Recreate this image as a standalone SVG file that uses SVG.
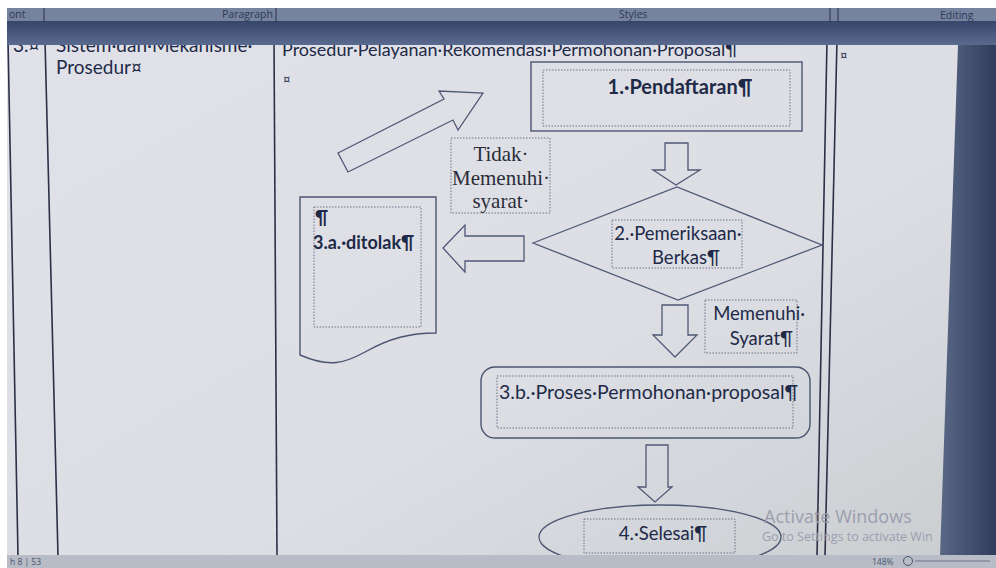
<svg xmlns="http://www.w3.org/2000/svg" width="996" height="568" viewBox="0 0 996 568">
<defs>
<linearGradient id="pg" x1="0" y1="0" x2="1" y2="1">
<stop offset="0" stop-color="#e1e2e9"/>
<stop offset="0.6" stop-color="#dcdee4"/>
<stop offset="1" stop-color="#c9cdcf"/>
</linearGradient>
<linearGradient id="band" x1="0" y1="0" x2="0" y2="1">
<stop offset="0" stop-color="#36456a"/>
<stop offset="1" stop-color="#5a6a8e"/>
</linearGradient>
<linearGradient id="side" x1="0" y1="0" x2="1" y2="0">
<stop offset="0" stop-color="#5a6886"/>
<stop offset="1" stop-color="#2f3c5c"/>
</linearGradient>
</defs>
<style>
.ln{fill:none;stroke:#4b5572;stroke-width:1.4}
.sh{fill:none;stroke:#4f5874;stroke-width:1.3}
.dot{fill:none;stroke:#6d7388;stroke-width:1;stroke-dasharray:1.5 1.5}
.t{font-family:Lato,"Liberation Sans",sans-serif;fill:#1e2a48}
.b{font-weight:bold}
.s{font-family:"Liberation Serif",serif;fill:#2a2d38}
.tab{stroke:#2b3047;stroke-width:1.6}
.wm{font-family:"Open Sans","Liberation Sans",sans-serif;fill:#9a9fae}
.rb{font-family:"Open Sans","Liberation Sans",sans-serif;font-size:10.5px;fill:#2e3a58}
</style>
<rect x="0" y="0" width="996" height="568" fill="#ffffff"/>
<rect x="7" y="8" width="989" height="560" fill="url(#pg)"/>
<!-- right dark side -->
<polygon points="958,45 996,45 996,556 940,556" fill="url(#side)"/>
<!-- table lines -->
<line class="tab" x1="8" y1="40" x2="18" y2="556"/>
<line class="tab" x1="45" y1="40" x2="58" y2="556"/>
<line class="tab" x1="274" y1="40" x2="277" y2="556"/>
<line class="tab" x1="827" y1="40" x2="817" y2="556"/>
<line class="tab" x1="837" y1="40" x2="825" y2="556"/>
<!-- header text -->
<text class="t" x="13" y="52" font-size="19">3.¤</text>
<text class="t" x="56" y="52" font-size="19">Sistem·dan·Mekanisme·</text>
<text class="t" x="56" y="74" font-size="19">Prosedur¤</text>
<text class="t" x="282" y="56" font-size="18">Prosedur·Pelayanan·Rekomendasi·Permohonan·Proposal¶</text>
<text class="t" x="283" y="84" font-size="13">¤</text>
<text class="t" x="840" y="60" font-size="13">¤</text>
<!-- ribbon -->
<rect x="7" y="8" width="989" height="14" fill="#76839f"/>
<rect x="7" y="21" width="989" height="24" fill="url(#band)"/>
<text class="rb" x="9" y="18">ont</text>
<text class="rb" x="222" y="18">Paragraph</text>
<text class="rb" x="619" y="18">Styles</text>
<text class="rb" x="940" y="19">Editing</text>
<line x1="44" y1="8" x2="44" y2="22" stroke="#2b3047" stroke-width="1"/>
<line x1="276" y1="8" x2="276" y2="22" stroke="#2b3047" stroke-width="1"/>
<line x1="830" y1="8" x2="830" y2="22" stroke="#2b3047" stroke-width="1"/>
<line x1="838" y1="8" x2="838" y2="22" stroke="#2b3047" stroke-width="1"/>
<!-- nodes -->
<g id="n1">
<rect class="ln" x="531" y="62" width="271" height="69"/>
<rect class="dot" x="543" y="70" width="247" height="56"/>
<text class="t b" x="680" y="94" font-size="20" text-anchor="middle">1.·Pendaftaran¶</text>
</g>
<g id="n2">
<polygon class="sh" points="533,243 677,187 822,245 678,300"/>
<rect class="dot" x="612" y="220" width="130" height="48"/>
<text class="t" x="678" y="240" font-size="18.5" text-anchor="middle">2.·Pemeriksaan·</text>
<text class="t" x="686" y="264" font-size="18.5" text-anchor="middle">Berkas¶</text>
</g>
<g id="n3a">
<path class="ln" d="M300,197 H436 V333 C410,333 390,338 365,352 C345,363 330,368 300,355 Z" stroke="#55608a"/>
<rect class="dot" x="314" y="207" width="107" height="120"/>
<text class="t b" x="315" y="224" font-size="18">¶</text>
<text class="t b" x="313" y="249" font-size="18">3.a.·ditolak¶</text>
</g>
<g id="lblTidak">
<rect class="dot" x="451" y="138" width="99" height="75"/>
<text class="s" x="501" y="161" font-size="21" text-anchor="middle">Tidak·</text>
<text class="s" x="501" y="185" font-size="21" text-anchor="middle">Memenuhi·</text>
<text class="s" x="501" y="208" font-size="21" text-anchor="middle">syarat·</text>
</g>
<g id="lblMemenuhi">
<rect class="dot" x="705" y="300" width="92" height="53"/>
<text class="t" x="805" y="320" font-size="18.5" text-anchor="end">Memenuhi·</text>
<text class="t" x="793" y="345" font-size="18.5" text-anchor="end">Syarat¶</text>
</g>
<g id="n3b">
<rect class="ln" x="481" y="367" width="329" height="71" rx="14"/>
<rect class="dot" x="497" y="376" width="296" height="52"/>
<text class="t" x="499" y="399" font-size="19.5">3.b.·Proses·Permohonan·proposal¶</text>
</g>
<g id="n4">
<ellipse class="sh" cx="660" cy="537" rx="121" ry="32"/>
<rect class="dot" x="584" y="519" width="151" height="34"/>
<text class="t" x="663" y="540" font-size="18.5" text-anchor="middle">4.·Selesai¶</text>
</g>
<!-- connectors (block arrows) -->
<g id="connectors">
<polygon class="sh" points="665,143 688,143 688,170 700,170 676,185 653,170 665,170"/>
<polygon class="sh" points="524,236 524,261 465,261 465,272 443,248 465,225 465,236"/>
<polygon class="sh" points="338,153 444,99 439,91 483,93 458,130 453,120 348,172"/>
<polygon class="sh" points="662,305 688,305 688,335 697,335 675,357 653,335 662,335"/>
<polygon class="sh" points="646,445 668,445 668,487 672,487 655,502 638,487 646,487"/>
</g>
<!-- watermark -->
<text class="wm" x="764" y="523" font-size="18">Activate Windows</text>
<text class="wm" x="762" y="541" font-size="12.5">Go to Settings to activate Win</text>
<!-- status bar -->
<rect x="7" y="555" width="989" height="13" fill="#b7bcc6"/>
<text x="10" y="565" font-family="Open Sans,sans-serif" font-size="8.5" fill="#4a5470">h 8 | 53</text>
<text x="872" y="565" font-family="Open Sans,sans-serif" font-size="8.5" fill="#4a5470">148%</text>
<circle cx="908" cy="561" r="4.5" fill="none" stroke="#4a5470"/>
<line x1="915" y1="561" x2="990" y2="561" stroke="#6a7288"/>
</svg>
